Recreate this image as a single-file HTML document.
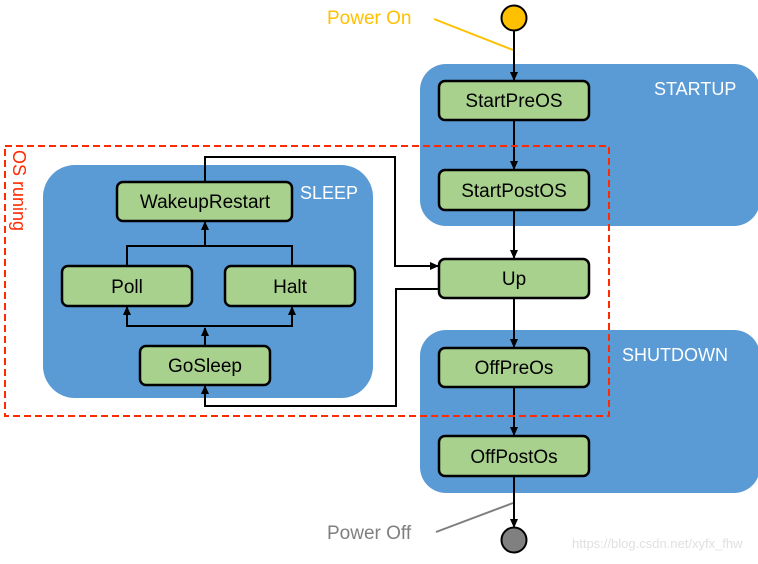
<!DOCTYPE html>
<html><head><style>
html,body{margin:0;padding:0;background:#fff;}
</style></head><body>
<svg width="758" height="559" viewBox="0 0 758 559" xmlns="http://www.w3.org/2000/svg" font-family="'Liberation Sans', sans-serif">
<defs>
<marker id="a" markerWidth="10" markerHeight="10" refX="8" refY="5" orient="auto" markerUnits="userSpaceOnUse">
<path d="M0,1 L9,5 L0,9 z" fill="#000"/></marker>
</defs>
<rect x="420" y="64" width="340" height="162" rx="26" fill="#5B9BD5"/>
<rect x="420" y="330" width="340" height="163" rx="26" fill="#5B9BD5"/>
<rect x="43" y="165" width="330" height="233" rx="32" fill="#5B9BD5"/>
<text x="654" y="95" fill="#fff" font-size="18">STARTUP</text>
<text x="622" y="361" fill="#fff" font-size="18">SHUTDOWN</text>
<text x="300" y="199" fill="#fff" font-size="18">SLEEP</text>
<text x="327" y="24" fill="#FFC000" font-size="19">Power On</text>
<line x1="434" y1="19" x2="513" y2="50" stroke="#FFC000" stroke-width="2"/>
<circle cx="514" cy="18" r="12.5" fill="#FFC000" stroke="#000" stroke-width="2"/>
<text x="327" y="539" fill="#7f7f7f" font-size="19">Power Off</text>
<line x1="436" y1="532" x2="513" y2="503" stroke="#7f7f7f" stroke-width="2"/>
<circle cx="514" cy="540" r="12.5" fill="#808080" stroke="#000" stroke-width="2"/>
<g stroke="#000" stroke-width="2" fill="none">
<line x1="514" y1="31" x2="514" y2="80" marker-end="url(#a)"/>
<line x1="514" y1="120" x2="514" y2="169" marker-end="url(#a)"/>
<line x1="514" y1="210" x2="514" y2="258" marker-end="url(#a)"/>
<line x1="514" y1="298" x2="514" y2="347" marker-end="url(#a)"/>
<line x1="514" y1="387" x2="514" y2="435" marker-end="url(#a)"/>
<line x1="514" y1="476" x2="514" y2="527" marker-end="url(#a)"/>
<polyline points="205,182 205,157 395,157 395,266 438,266" marker-end="url(#a)"/>
<polyline points="439,289 396,289 396,406 205,406 205,386" marker-end="url(#a)"/>
<line x1="205" y1="346" x2="205" y2="328" marker-end="url(#a)"/>
<polyline points="127,307 127,326 292,326 292,307" />
<line x1="127" y1="326" x2="127" y2="307" marker-end="url(#a)"/>
<line x1="292" y1="326" x2="292" y2="307" marker-end="url(#a)"/>
<polyline points="127,266 127,246 292,246 292,266"/>
<line x1="205" y1="246" x2="205" y2="222" marker-end="url(#a)"/>
</g>
<rect x="5" y="146" width="604" height="270" fill="none" stroke="#FF2A00" stroke-width="2" stroke-dasharray="7,4"/>
<text transform="translate(13,150) rotate(90)" fill="#FF2A00" font-size="18">OS runing</text>
<g fill="#A9D18E" stroke="#000" stroke-width="2.5">
<rect x="439" y="81" width="150" height="39" rx="6"/>
<rect x="439" y="170" width="150" height="40" rx="6"/>
<rect x="439" y="259" width="150" height="39" rx="6"/>
<rect x="439" y="348" width="150" height="39" rx="6"/>
<rect x="439" y="436" width="150" height="40" rx="6"/>
<rect x="117" y="182" width="175" height="39" rx="6"/>
<rect x="62" y="266" width="130" height="40" rx="6"/>
<rect x="225" y="266" width="130" height="40" rx="6"/>
<rect x="140" y="346" width="130" height="39" rx="6"/>
</g>
<g font-size="19" text-anchor="middle" fill="#000">
<text x="514" y="107">StartPreOS</text>
<text x="514" y="197">StartPostOS</text>
<text x="514" y="285">Up</text>
<text x="514" y="374">OffPreOs</text>
<text x="514" y="463">OffPostOs</text>
<text x="205" y="208">WakeupRestart</text>
<text x="127" y="293">Poll</text>
<text x="290" y="293">Halt</text>
<text x="205" y="372">GoSleep</text>
</g>
<text x="572" y="548" fill="#e0e0e0" font-size="13">https://blog.csdn.net/xyfx_fhw</text>
</svg>
</body></html>
